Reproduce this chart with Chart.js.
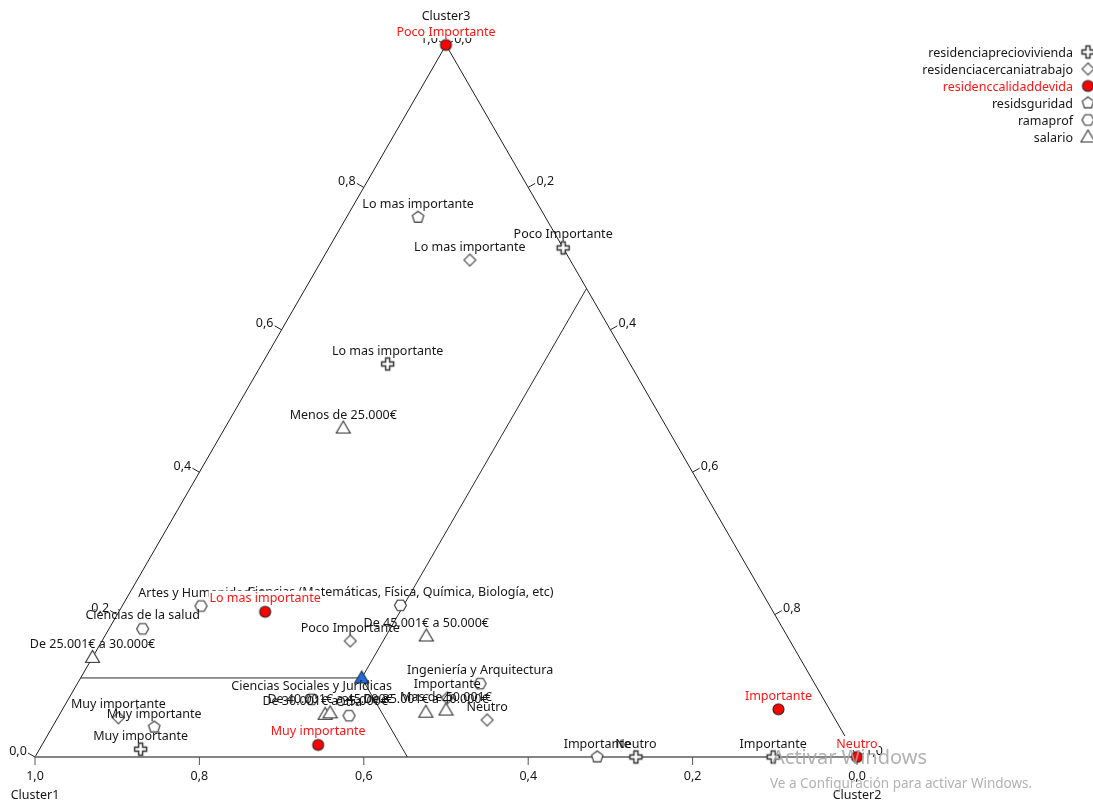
<!DOCTYPE html>
<html>
<head>
<meta charset="utf-8">
<script src="https://cdn.jsdelivr.net/npm/chart.js@4"></script>
<style>
  html, body { margin: 0; padding: 0; background: #fff; }
  #wrap { width: 1093px; height: 803px; position: relative; }
</style>
</head>
<body>
<div id="wrap"><canvas id="ternaryChart"></canvas></div>
<script>
// ternary coordinates of every point: [Cluster1, Cluster2, Cluster3]
const precioLabels = ['Poco Importante', 'Lo mas importante', 'Muy importante', 'Neutro', 'Importante'];
const precioValues = [[0.0, 0.285, 0.715], [0.295, 0.153, 0.552], [0.866, 0.123, 0.011], [0.269, 0.731, 0.0], [0.102, 0.898, 0.0]];

const cercaniaLabels = ['Lo mas importante', 'Poco Importante', 'Muy importante', 'Importante', 'Neutro'];
const cercaniaValues = [[0.122, 0.18, 0.698], [0.535, 0.302, 0.163], [0.871, 0.074, 0.055], [0.457, 0.46, 0.083], [0.424, 0.524, 0.052]];

const calidadLabels = ['Poco Importante', 'Lo mas importante', 'Muy importante', 'Importante', 'Neutro'];
const calidadValues = [[0.0, 0.0, 1.0], [0.618, 0.178, 0.204], [0.647, 0.336, 0.017], [0.062, 0.871, 0.067], [0.0, 1.0, 0.0]];

const seguridadLabels = ['Lo mas importante', 'Muy importante', 'Importante'];
const seguridadValues = [[0.155, 0.087, 0.758], [0.834, 0.124, 0.042], [0.316, 0.684, 0.0]];

const ramaLabels = ['Artes y Humanidades', 'Ciencias (Matemáticas, Física, Química, Biología, etc)', 'Ciencias de la salud',
  'Ciencias Sociales y Jurídicas', 'Ingeniería y Arquitectura', 'Otra'];
const ramaValues = [[0.692, 0.096, 0.212], [0.449, 0.338, 0.213], [0.779, 0.041, 0.18],
  [0.623, 0.296, 0.081], [0.407, 0.49, 0.103], [0.589, 0.353, 0.058]];

const salarioLabels = ['Menos de 25.000€', 'De 25.001€ a 30.000€', 'De 30.001€ a 35.000€', 'De 40.001€ a 45.000€',
  'De 35.001€ a 40.000€', 'Mas de 50.001€', 'De 45.001€ a 50.000€'];
const salarioValues = [[0.394, 0.144, 0.462], [0.86, 0.0, 0.14], [0.617, 0.323, 0.06], [0.61, 0.328, 0.062],
  [0.493, 0.444, 0.063], [0.467, 0.467, 0.066], [0.439, 0.391, 0.17]];

// point where the three cluster regions meet
const centro = [0.547, 0.342, 0.111];

const seriesNames = ['residenciapreciovivienda', 'residenciacercaniatrabajo', 'residenccalidaddevida', 'residsguridad', 'ramaprof', 'salario'];
const tickValues = [0, 0.2, 0.4, 0.6, 0.8, 1.0];
const clusterNames = ['Cluster1', 'Cluster2', 'Cluster3'];

const FONT = '12.5px "Noto Sans", "Open Sans", sans-serif';
const TEXT = '#161616';
const RED = '#ff1414';

// ternary -> plane (x across the base, y = height as Cluster3 share)
const toXY = t => ({ x: t[1] + t[2] / 2, y: t[2] });

// marker images
function marker(draw) {
  const c = document.createElement('canvas');
  c.width = 17;
  c.height = 17;
  const g = c.getContext('2d');
  g.translate(8.5, 8.5);
  g.lineWidth = 1.1;
  g.strokeStyle = '#2e2e2e';
  g.fillStyle = '#fff';
  g.beginPath();
  draw(g);
  g.closePath();
  g.fill();
  g.stroke();
  return c;
}
function poly(g, n, r, start) {
  for (let i = 0; i < n; i++) {
    const a = start + i * 2 * Math.PI / n;
    if (i) g.lineTo(r * Math.cos(a), r * Math.sin(a));
    else g.moveTo(r * Math.cos(a), r * Math.sin(a));
  }
}
const crossMark = marker(g => {
  const a = 2, b = 6;
  g.lineWidth = 1.4;
  g.moveTo(-a, -b); g.lineTo(a, -b); g.lineTo(a, -a); g.lineTo(b, -a); g.lineTo(b, a); g.lineTo(a, a);
  g.lineTo(a, b); g.lineTo(-a, b); g.lineTo(-a, a); g.lineTo(-b, a); g.lineTo(-b, -a); g.lineTo(-a, -a);
});
const diamondMark = marker(g => { g.strokeStyle = '#4a4a4a'; poly(g, 4, 6, -Math.PI / 2); });
const redMark = marker(g => { g.fillStyle = '#ff0000'; g.strokeStyle = '#222'; g.arc(0, 0, 5.5, 0, 2 * Math.PI); });
const pentMark = marker(g => poly(g, 5, 6, -Math.PI / 2));
const hexMark = marker(g => poly(g, 6, 6, 0));
const triMark = marker(g => { g.moveTo(0, -7); g.lineTo(7, 5); g.lineTo(-7, 5); });
const blueMark = marker(g => { g.fillStyle = '#1f6fd6'; g.strokeStyle = '#1d2a44'; g.moveTo(0, -7); g.lineTo(7, 5); g.lineTo(-7, 5); });

const seriesMarks = [crossMark, diamondMark, redMark, pentMark, hexMark, triMark];
const seriesValues = [precioValues, cercaniaValues, calidadValues, seguridadValues, ramaValues, salarioValues];
const seriesLabels = [precioLabels, cercaniaLabels, calidadLabels, seguridadLabels, ramaLabels, salarioLabels];

const fmt = v => v.toFixed(1).replace('.', ',');

const ternaryFrame = {
  id: 'ternaryFrame',
  beforeDatasetsDraw(chart) {
    const { ctx, scales: { x, y } } = chart;
    const P = t => [x.getPixelForValue(t[1] + t[2] / 2), y.getPixelForValue(t[2])];
    const line = (a, b, color, w) => {
      const p = P(a), q = P(b);
      ctx.beginPath();
      ctx.moveTo(p[0], p[1]);
      ctx.lineTo(q[0], q[1]);
      ctx.strokeStyle = color;
      ctx.lineWidth = w;
      ctx.stroke();
    };
    const tick = (p, dx, dy, color) => {
      ctx.beginPath();
      ctx.moveTo(p[0], p[1]);
      ctx.lineTo(p[0] + dx, p[1] + dy);
      ctx.strokeStyle = color;
      ctx.lineWidth = 1;
      ctx.stroke();
    };
    ctx.save();
    // edges
    line([1, 0, 0], [0, 0, 1], '#1e1e1e', 1);
    line([0, 0, 1], [0, 1, 0], '#1e1e1e', 1);
    line([1, 0, 0], [0, 1, 0], '#858585', 2);
    // region borders from the meeting point
    line(centro, [1 - centro[2], 0, centro[2]], '#2a2a2a', 1);
    line(centro, [0, centro[1], 1 - centro[1]], '#2a2a2a', 1);
    line(centro, [centro[0], 1 - centro[0], 0], '#2a2a2a', 1);

    // ticks and tick labels
    ctx.font = FONT;
    ctx.fillStyle = TEXT;
    ctx.textAlign = 'center';
    ctx.textBaseline = 'middle';
    tickValues.forEach(v => {
      // Cluster1 along the base
      let p = P([v, 1 - v, 0]);
      tick(p, 0, 8, '#555');
      ctx.fillText(fmt(v), p[0], p[1] + 19);
      // Cluster3 on the left edge
      p = P([1 - v, 0, v]);
      tick(p, -7, -4, '#222');
      ctx.fillText(fmt(v), p[0] - 17, p[1] - 6);
      // Cluster2 on the right edge
      p = P([0, v, 1 - v]);
      tick(p, 7, -4, '#222');
      ctx.fillText(fmt(v), p[0] + 17, p[1] - 6);
    });
    // corner titles
    let p = P([1, 0, 0]);
    ctx.fillText(clusterNames[0], p[0], p[1] + 38);
    p = P([0, 1, 0]);
    ctx.fillText(clusterNames[1], p[0], p[1] + 38);
    p = P([0, 0, 1]);
    ctx.fillText(clusterNames[2], p[0], p[1] - 29);
    ctx.restore();
  },
  afterDatasetsDraw(chart) {
    const { ctx, scales: { x, y } } = chart;
    const P = t => [x.getPixelForValue(t[1] + t[2] / 2), y.getPixelForValue(t[2])];
    ctx.save();
    ctx.font = FONT;
    ctx.textAlign = 'center';
    ctx.textBaseline = 'middle';
    // black point labels first, red ones on a white box on top
    [0, 1, 3, 4, 5, 2].forEach(s => {
      seriesValues[s].forEach((t, i) => {
        const p = P(t);
        const txt = seriesLabels[s][i];
        if (s === 2) {
          const w = ctx.measureText(txt).width;
          ctx.fillStyle = '#fff';
          ctx.fillRect(p[0] - w / 2 - 1, p[1] - 21, w + 2, 14);
          ctx.fillStyle = RED;
        } else {
          ctx.fillStyle = TEXT;
        }
        ctx.fillText(txt, p[0], p[1] - 13);
      });
    });

    // legend, right aligned with the marker on the right
    ctx.textAlign = 'right';
    seriesNames.forEach((name, i) => {
      const ly = 52 + i * 17;
      ctx.fillStyle = i === 2 ? RED : TEXT;
      ctx.fillText(name, 1073, ly + 1);
      ctx.drawImage(seriesMarks[i], 1088 - 8.5, ly - 8.5);
    });

    // OS activation watermark seen over the screenshot
    ctx.textAlign = 'left';
    ctx.fillStyle = 'rgba(165,165,165,0.85)';
    ctx.font = '20px "Noto Sans", sans-serif';
    ctx.fillText('Activar Windows', 772, 758);
    ctx.font = '13.5px "Noto Sans", sans-serif';
    ctx.fillText('Ve a Configuración para activar Windows.', 770, 784);
    ctx.restore();
  }
};

const datasets = seriesNames.map((name, s) => ({
  label: name,
  data: seriesValues[s].map(toXY),
  pointStyle: seriesMarks[s],
  pointRadius: 6,
  pointHoverRadius: 6,
  clip: false
}));
datasets.push({
  label: 'centro',
  data: [toXY(centro)],
  pointStyle: blueMark,
  pointRadius: 6,
  clip: false
});

new Chart(document.getElementById('ternaryChart'), {
  type: 'scatter',
  data: { datasets: datasets },
  options: {
    responsive: true,
    maintainAspectRatio: false,
    animation: false,
    events: [],
    layout: { padding: { left: 35, right: 236, top: 45, bottom: 46 } },
    scales: {
      x: { type: 'linear', min: 0, max: 1, display: false },
      y: { type: 'linear', min: 0, max: 1, display: false }
    },
    plugins: {
      legend: { display: false },
      tooltip: { enabled: false }
    }
  },
  plugins: [ternaryFrame]
});
</script>
</body>
</html>
